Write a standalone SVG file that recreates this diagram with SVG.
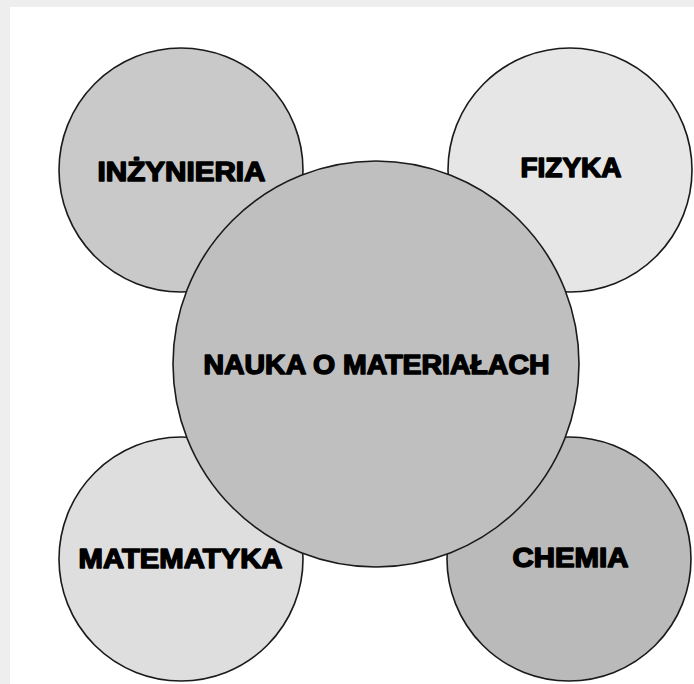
<svg xmlns="http://www.w3.org/2000/svg" width="694" height="684" viewBox="0 0 694 684">
  <style>
    .c { stroke: #1a1a1a; stroke-width: 1.6; }
    .t { font-family: "Liberation Sans", Arial, sans-serif; font-weight: bold; font-size: 27px; fill: #000; stroke: #000; stroke-width: 1.5; stroke-linejoin: round; text-anchor: middle; }
  </style>
  <rect x="0" y="0" width="694" height="684" fill="#eeeeee"/>
  <rect x="10" y="7" width="684" height="677" fill="#ffffff"/>
  <g id="inzynieria">
    <circle class="c" cx="181" cy="170" r="122" fill="#c9c9c9"/>
    <text class="t" x="181.5" y="181" textLength="168" lengthAdjust="spacingAndGlyphs">INŻYNIERIA</text>
  </g>
  <g id="fizyka">
    <circle class="c" cx="570" cy="170" r="122" fill="#e6e6e6"/>
    <text class="t" x="571" y="177" textLength="101" lengthAdjust="spacingAndGlyphs">FIZYKA</text>
  </g>
  <g id="matematyka">
    <circle class="c" cx="181" cy="559" r="122" fill="#dedede"/>
    <text class="t" x="180.5" y="568" textLength="204" lengthAdjust="spacingAndGlyphs">MATEMATYKA</text>
  </g>
  <g id="chemia">
    <circle class="c" cx="569" cy="559" r="122" fill="#bababa"/>
    <text class="t" x="570.5" y="567" textLength="116" lengthAdjust="spacingAndGlyphs">CHEMIA</text>
  </g>
  <g id="nauka">
    <circle class="c" cx="376" cy="364" r="203" fill="#bfbfbf"/>
    <text class="t" x="376.5" y="374" textLength="346" lengthAdjust="spacingAndGlyphs">NAUKA O MATERIAŁACH</text>
  </g>
  <g id="connectors"></g>
</svg>
